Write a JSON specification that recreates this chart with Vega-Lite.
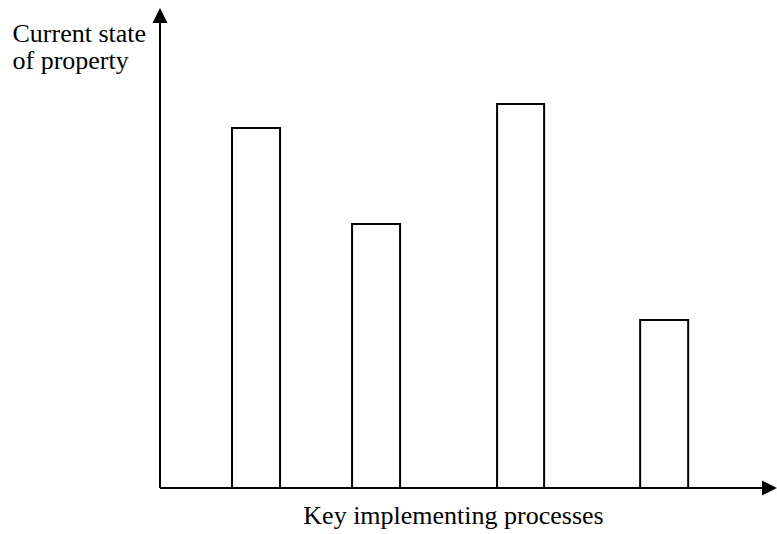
{
  "$schema": "https://vega.github.io/schema/vega-lite/v6.json",
  "width": 617,
  "height": 480,
  "autosize": {"type": "none"},
  "padding": {"left": 160, "top": 8, "right": 0, "bottom": 46},
  "background": "white",
  "config": {
    "view": {"stroke": null},
    "font": "Liberation Serif",
    "axis": {
      "domain": false, "ticks": false, "labels": false, "grid": false,
      "titleFont": "Liberation Serif", "titleFontSize": 26, "titleFontWeight": "normal",
      "titleColor": "black"
    },
    "axisX": {"titleAlign": "center", "titleBaseline": "alphabetic", "titleX": 293, "titleY": 35},
    "axisY": {"titleAngle": 0, "titleAlign": "left", "titleBaseline": "alphabetic", "titleX": -148, "titleY": 33, "titleLineHeight": 27}
  },
  "datasets": {
    "bars": [
      {"process": "Process 1", "start": 3, "end": 5, "value": 15},
      {"process": "Process 2", "start": 8, "end": 10, "value": 11},
      {"process": "Process 3", "start": 14.04, "end": 16, "value": 16},
      {"process": "Process 4", "start": 20, "end": 22, "value": 7}
    ],
    "axes": [
      {"name": "y", "x0": 0, "x1": 0, "y0": 0, "y1": 19.4},
      {"name": "x", "x0": 0, "x1": 25.1, "y0": 0, "y1": 0}
    ],
    "arrows": [
      {"dir": "up", "x": 0, "y": 20},
      {"dir": "right", "x": 25.7, "y": 0}
    ]
  },
  "layer": [
    {
      "data": {"name": "bars"},
      "mark": {"type": "rect", "fill": "white", "stroke": "black", "strokeWidth": 2},
      "encoding": {
        "x": {
          "field": "start", "type": "quantitative",
          "scale": {"domain": [0, 25.7], "nice": false, "zero": false},
          "axis": {"title": "Key implementing processes"}
        },
        "x2": {"field": "end"},
        "y": {
          "field": "value", "type": "quantitative",
          "scale": {"domain": [0, 20], "nice": false, "zero": false},
          "axis": {"title": ["Current state", "of property"]}
        },
        "y2": {"datum": 0}
      }
    },
    {
      "data": {"name": "axes"},
      "mark": {"type": "rule", "stroke": "black", "strokeWidth": 2},
      "encoding": {
        "x": {"field": "x0", "type": "quantitative", "scale": {"domain": [0, 25.7], "nice": false, "zero": false}, "axis": {"title": "Key implementing processes"}},
        "x2": {"field": "x1"},
        "y": {"field": "y0", "type": "quantitative", "scale": {"domain": [0, 20], "nice": false, "zero": false}, "axis": {"title": ["Current state", "of property"]}},
        "y2": {"field": "y1"}
      }
    },
    {
      "data": {"name": "arrows"},
      "mark": {"type": "point", "filled": true, "fill": "black", "stroke": null, "opacity": 1, "size": 225},
      "encoding": {
        "x": {"field": "x", "type": "quantitative", "scale": {"domain": [0, 25.7], "nice": false, "zero": false}, "axis": {"title": "Key implementing processes"}},
        "y": {"field": "y", "type": "quantitative", "scale": {"domain": [0, 20], "nice": false, "zero": false}, "axis": {"title": ["Current state", "of property"]}},
        "shape": {
          "field": "dir", "type": "nominal",
          "scale": {"domain": ["up", "right"], "range": ["M0,0L1,2L-1,2Z", "M0,0L-2,-1L-2,1Z"]},
          "legend": null
        }
      }
    }
  ]
}
